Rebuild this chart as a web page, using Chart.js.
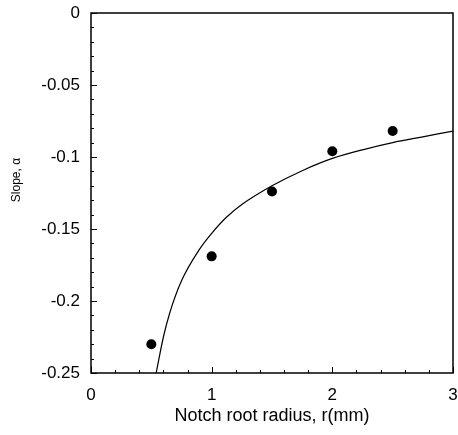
<!DOCTYPE html>
<html>
<head>
<meta charset="utf-8">
<script src="https://cdn.jsdelivr.net/npm/chart.js@4"></script>
<style>
  body { margin: 0; background: #fff; }
  #wrap { width: 458px; height: 435px; }
</style>
</head>
<body>
<div id="wrap"><canvas id="slopeChart"></canvas></div>
<script>
// measured points
var radius = [0.5, 1.0, 1.5, 2.0, 2.5];
var slope = [-0.23, -0.169, -0.124, -0.096, -0.082];

// fitted curve
var fitRadius = [0.54, 0.6, 0.65, 0.75, 0.9, 1.0, 1.12, 1.25, 1.5, 1.75, 2.0, 2.25, 2.5, 2.75, 3.0];
var fitSlope = [-0.25, -0.225, -0.209, -0.186, -0.164, -0.153, -0.142, -0.133, -0.12, -0.1095, -0.101, -0.095, -0.09, -0.086, -0.082];

var xTicks = [0, 1, 2, 3];
var yTicks = [0, -0.05, -0.1, -0.15, -0.2, -0.25];

var font = '"Liberation Sans", Arial, sans-serif';

// box round the plot, inward ticks, y title
var frame = {
    id: 'frame',
    afterDraw: function(chart) {
        var c = chart.ctx;
        var a = chart.chartArea;
        var xs = chart.scales.x;
        var ys = chart.scales.y;
        c.save();
        c.strokeStyle = '#000';
        c.lineWidth = 1;
        var i, p, len;
        for (i = 0; i <= 15; i++) {
            p = Math.round(xs.getPixelForValue(i * 0.2)) + 0.5;
            len = (i % 5 === 0) ? 6 : 3;
            c.beginPath();
            c.moveTo(p, a.bottom);
            c.lineTo(p, a.bottom - len);
            c.stroke();
        }
        for (i = 0; i <= 25; i++) {
            p = Math.round(ys.getPixelForValue(-i * 0.01)) + 0.5;
            len = (i % 5 === 0) ? 6 : 3;
            c.beginPath();
            c.moveTo(a.left, p);
            c.lineTo(a.left + len, p);
            c.stroke();
        }
        c.lineWidth = 1.5;
        c.strokeRect(a.left, a.top, a.right - a.left, a.bottom - a.top);

        c.translate(17, 180);
        c.rotate(-Math.PI / 2);
        c.fillStyle = '#000';
        c.font = '12px ' + font;
        c.textAlign = 'center';
        c.textBaseline = 'middle';
        c.fillText('Slope, α', 0, 0);
        c.restore();
    }
};

var ctx = document.getElementById('slopeChart').getContext('2d');
var myChart = new Chart(ctx, {
    type: 'scatter',
    data: {
        datasets: [{
            label: 'fit',
            data: fitRadius.map(function(r, i) { return { x: r, y: fitSlope[i] }; }),
            showLine: true,
            borderColor: '#000',
            borderWidth: 1.2,
            pointRadius: 0,
            cubicInterpolationMode: 'monotone',
            fill: false
        }, {
            label: 'measured',
            data: radius.map(function(r, i) { return { x: r, y: slope[i] }; }),
            backgroundColor: '#000',
            borderColor: '#000',
            pointRadius: 5,
            pointBorderWidth: 0
        }]
    },
    options: {
        responsive: true,
        maintainAspectRatio: false,
        animation: false,
        layout: { padding: { top: 13, right: 5, left: 0, bottom: 0 } },
        plugins: {
            legend: { display: false },
            tooltip: { enabled: false }
        },
        scales: {
            x: {
                type: 'linear',
                min: 0,
                max: 3,
                afterFit: function(s) { s.height = 62; s.paddingLeft = 0; s.paddingRight = 0; },
                afterBuildTicks: function(s) { s.ticks = xTicks.map(function(v) { return { value: v }; }); },
                grid: { display: false, drawTicks: false },
                border: { display: false },
                ticks: {
                    color: '#000', padding: 12, font: { family: font, size: 17 },
                    callback: function(v) { return String(v); }
                },
                title: {
                    display: true,
                    text: 'Notch root radius, r(mm)',
                    color: '#000',
                    font: { family: font, size: 18 },
                    padding: { top: 0, bottom: 8 }
                }
            },
            y: {
                type: 'linear',
                min: -0.25,
                max: 0,
                afterFit: function(s) { s.width = 91; s.paddingTop = 0; s.paddingBottom = 0; },
                afterBuildTicks: function(s) { s.ticks = yTicks.map(function(v) { return { value: v }; }); },
                grid: { display: false, drawTicks: false },
                border: { display: false },
                ticks: {
                    color: '#000', padding: 11, font: { family: font, size: 17 },
                    callback: function(v) { return String(v); }
                }
            }
        }
    },
    plugins: [frame]
});
</script>
</body>
</html>
